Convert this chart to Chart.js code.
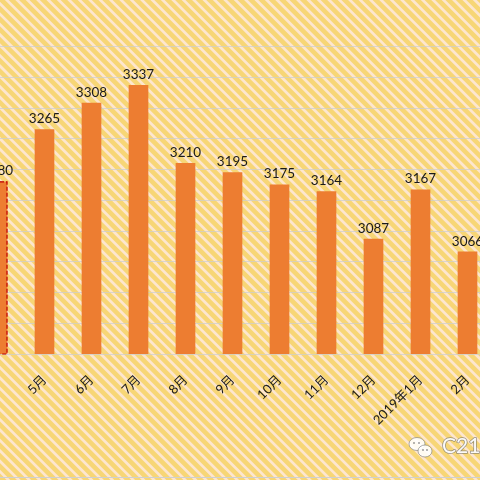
<!DOCTYPE html>
<html>
  <head>
    <meta charset="UTF-8">
    <title>month chart</title>
    <script src="https://cdn.jsdelivr.net/npm/chart.js@4.4.1/dist/chart.umd.min.js"></script>
    <style type="text/css">
      html, body { margin: 0; padding: 0; width: 480px; height: 480px; overflow: hidden; background: #fce5cd; }
      #myChart { position: absolute; left: -60px; top: -40px; }
    </style>
  </head>
  <body>
    <canvas id="myChart" width="600" height="540"></canvas>
    <script>
    var labels = ['4月', '5月', '6月', '7月', '8月', '9月', '10月', '11月', '12月', '2019年1月', '2月'];
    var values = [3180, 3265, 3308, 3337, 3210, 3195, 3175, 3164, 3087, 3167, 3066];
    var yMin = 2900;
    var yMax = 3500;
    var yStep = 50;

    var font = "Lato, 'Noto Sans CJK SC', sans-serif";

    // striped background + bottom line
    var backPlugin = {
      id: 'back',
      beforeDraw: function(chart) {
        var ctx = chart.ctx;
        var w = chart.width, h = chart.height;
        ctx.save();
        ctx.fillStyle = '#fde6cf';
        ctx.fillRect(0, 0, w, h);
        ctx.strokeStyle = '#f7d676';
        ctx.lineWidth = 4.6;
        for (var k = -h; k < w + h; k += 10.4) {
          ctx.beginPath();
          ctx.moveTo(k, 0);
          ctx.lineTo(k + h, h);
          ctx.stroke();
        }
        ctx.strokeStyle = '#cfcfcf';
        ctx.lineWidth = 1;
        ctx.beginPath();
        ctx.moveTo(0, 517.5);
        ctx.lineTo(w, 517.5);
        ctx.stroke();
        ctx.restore();
      }
    };

    // value labels, dashed marker and watermark
    var labelPlugin = {
      id: 'labels',
      afterDatasetsDraw: function(chart) {
        var ctx = chart.ctx;
        var meta = chart.getDatasetMeta(0);
        ctx.save();
        ctx.font = '13.5px ' + font;
        ctx.fillStyle = '#1a1a1a';
        ctx.textAlign = 'center';
        ctx.textBaseline = 'bottom';
        meta.data.forEach(function(bar, i) {
          ctx.fillText(values[i], bar.x, bar.y - 4);
        });

        var first = meta.data[0];
        var bottom = chart.scales.y.getPixelForValue(yMin);
        ctx.strokeStyle = '#c00000';
        ctx.lineWidth = 1.2;
        ctx.setLineDash([4, 2]);
        ctx.strokeRect(first.x - first.width / 2, first.y, first.width, bottom - first.y);
        ctx.setLineDash([]);

        // watermark
        var wx = 60 + 422, wy = 40 + 448;
        ctx.fillStyle = 'rgba(255,255,255,0.9)';
        ctx.strokeStyle = 'rgba(120,120,120,0.6)';
        ctx.lineWidth = 1;
        ctx.beginPath();
        ctx.ellipse(wx - 5, wy - 4, 8, 6.5, 0, 0, Math.PI * 2);
        ctx.fill(); ctx.stroke();
        ctx.beginPath();
        ctx.ellipse(wx + 3, wy + 3, 7, 6, 0, 0, Math.PI * 2);
        ctx.fill(); ctx.stroke();
        ctx.fillStyle = 'rgba(120,120,120,0.8)';
        [[-8, -5], [-3, -5], [1, 2], [5, 2]].forEach(function(p) {
          ctx.beginPath();
          ctx.arc(wx + p[0], wy + p[1], 0.9, 0, Math.PI * 2);
          ctx.fill();
        });
        ctx.font = '21px ' + font;
        ctx.textAlign = 'left';
        ctx.textBaseline = 'middle';
        ctx.lineWidth = 1.5;
        ctx.strokeStyle = 'rgba(110,110,110,0.7)';
        ctx.strokeText('C21海南', 60 + 442, 40 + 446);
        ctx.fillStyle = 'rgba(255,255,255,0.95)';
        ctx.fillText('C21海南', 60 + 442, 40 + 446);
        ctx.restore();
      }
    };

    var ctx = document.getElementById('myChart').getContext('2d');
    var chart = new Chart(ctx, {
      type: 'bar',
      data: {
        labels: labels,
        datasets: [{
          data: values,
          backgroundColor: '#ed7d31',
          barThickness: 19
        }]
      },
      options: {
        responsive: false,
        animation: false,
        devicePixelRatio: 1,
        layout: { padding: { left: 34, right: 49, top: 25, bottom: 0 } },
        plugins: { legend: { display: false }, tooltip: { enabled: false } },
        scales: {
          x: {
            grid: { display: false },
            border: { display: false },
            ticks: {
              color: '#1a1a1a',
              font: { family: font, size: 13 },
              minRotation: 45,
              maxRotation: 45,
              padding: 10,
              autoSkip: false
            },
            afterFit: function(s) { s.height = 146; }
          },
          y: {
            min: yMin,
            max: yMax,
            ticks: { display: false, stepSize: yStep },
            border: { display: false },
            grid: {
              color: function(c) {
                return c.tick && c.tick.value > 3400 ? 'rgba(0,0,0,0)' : 'rgba(205,205,205,0.75)';
              },
              drawTicks: false
            },
            afterFit: function(s) { s.width = 0; }
          }
        }
      },
      plugins: [backPlugin, labelPlugin]
    });
    </script>
  </body>
</html>
